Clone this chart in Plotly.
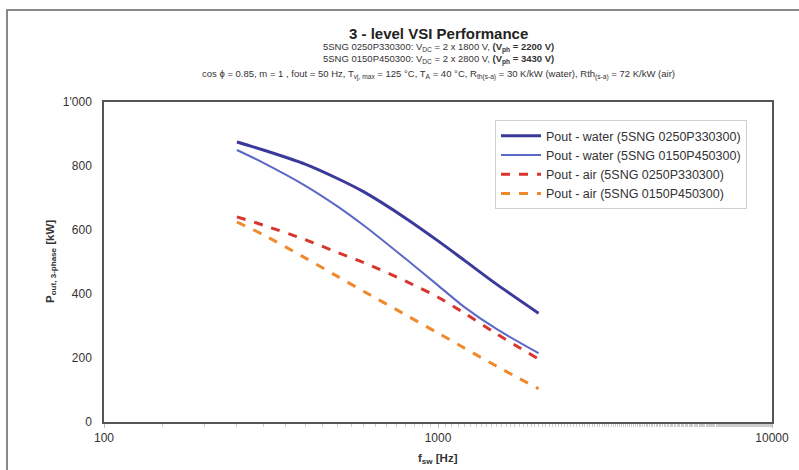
import plotly.graph_objects as go

freq_hz = [250, 300, 400, 500, 600, 800, 1000, 1200, 1500, 2000]
water_0250 = [875, 850, 806, 761, 719, 637, 566, 505, 430, 340]
water_0150 = [850, 810, 739, 674, 614, 510, 427, 359, 290, 215]
air_0250 = [641, 615, 570, 530, 498, 440, 390, 340, 275, 197]
air_0150 = [625, 585, 513, 455, 408, 335, 278, 231, 174, 104]

series_names = [
    "Pout - water (5SNG 0250P330300)",
    "Pout - water (5SNG 0150P450300)",
    "Pout - air (5SNG 0250P330300)",
    "Pout - air (5SNG 0150P450300)",
]
y_tickvals = [0, 200, 400, 600, 800, 1000]
y_ticktext = ["0", "200", "400", "600", "800", "1'000"]
x_tickvals = [100, 1000, 10000]
x_ticktext = ["100", "1000", "10000"]

FONT = "Arial, Liberation Sans, sans-serif"

fig = go.Figure()
styles = [
    dict(color="#3b3a9a", width=3, dash="solid"),
    dict(color="#5b68c6", width=2, dash="solid"),
    dict(color="#d8352c", width=3, dash="dash"),
    dict(color="#ef8a2c", width=3, dash="dash"),
]
for name, ys, st in zip(series_names, [water_0250, water_0150, air_0250, air_0150], styles):
    fig.add_trace(go.Scatter(x=freq_hz, y=ys, mode="lines", name=name,
                             line=dict(color=st["color"], width=st["width"], dash=st["dash"],
                                       shape="spline", smoothing=0.8)))

L, R, T, B = 104, 772, 102, 422
W, H = 799, 470
def px(p):
    return (p - L) / (R - L)
def py(p):
    return (B - p) / (B - T)

annotations = [
    dict(text="<b>3 - level VSI Performance</b>", x=px(438), y=py(33), font=dict(size=15, color="#222")),
    dict(text="5SNG 0250P330300: V<sub>DC</sub> = 2 x 1800 V, <b>(V<sub>ph</sub> = 2200 V)</b>", x=px(438), y=py(47), font=dict(size=9.5, color="#333")),
    dict(text="5SNG 0150P450300: V<sub>DC</sub> = 2 x 2800 V, <b>(V<sub>ph</sub> = 3430 V)</b>", x=px(438), y=py(60), font=dict(size=9.5, color="#333")),
    dict(text="cos ϕ = 0.85, m = 1 , fout = 50 Hz, T<sub>vj, max</sub> = 125 °C, T<sub>A</sub> = 40 °C, R<sub>th(s-a)</sub> = 30 K/kW (water), Rth<sub>(s-a)</sub> = 72 K/kW (air)",
         x=px(438), y=py(75), font=dict(size=9.5, color="#333")),
    dict(text="<b>f<sub>sw</sub> [Hz]</b>", x=px(438), y=py(459), font=dict(size=11.5, color="#333")),
    dict(text="<b>P<sub>out, 3-phase</sub> [kW]</b>", x=px(51), y=py(262), textangle=-90,
         font=dict(size=11.5, color="#333")),
]
for a in annotations:
    a.update(xref="paper", yref="paper", showarrow=False, xanchor="center", yanchor="middle")

fig.update_layout(
    width=W, height=H,
    margin=dict(l=L, r=W - R, t=T, b=H - B),
    paper_bgcolor="white", plot_bgcolor="white",
    font=dict(family=FONT, size=11, color="#333"),
    showlegend=True,
    legend=dict(x=px(495), y=py(120), xanchor="left", yanchor="top",
                bgcolor="white", bordercolor="#cfcfcf", borderwidth=1,
                font=dict(size=12.5, color="#333"), tracegroupgap=0,
                itemwidth=40),
    annotations=annotations,
    shapes=[dict(type="rect", xref="paper", yref="paper",
                 x0=px(7), x1=px(805), y0=py(480), y1=py(10),
                 line=dict(color="#888", width=2), layer="below")],
    xaxis=dict(type="log", range=[2, 4], tickvals=x_tickvals, ticktext=x_ticktext,
               showgrid=False, zeroline=False, showline=True, mirror=True, automargin=False,
               linecolor="#555", linewidth=1.5, ticks="outside", ticklen=4, tickcolor="#bbb",
               minor=dict(ticks="outside", ticklen=3, tickcolor="#ccc", showgrid=False),
               tickfont=dict(size=12, color="#333")),
    yaxis=dict(range=[0, 1000], tickvals=y_tickvals, ticktext=y_ticktext,
               showgrid=False, zeroline=False, showline=True, mirror=True, automargin=False,
               linecolor="#555", linewidth=1.5, ticks="", ticklabelstandoff=8,
               tickfont=dict(size=12, color="#333")),
)

fig.write_html("out.html")
